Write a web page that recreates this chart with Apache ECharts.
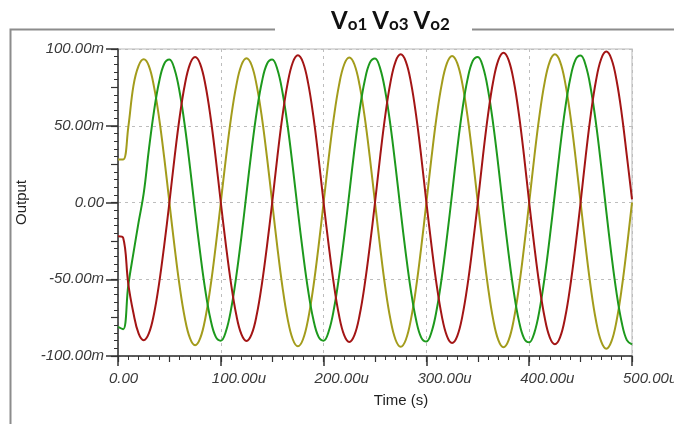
<!DOCTYPE html>
<html>
<head>
<meta charset="utf-8">
<script src="https://cdn.jsdelivr.net/npm/echarts@6/dist/echarts.min.js"></script>
<style>
  html, body { margin: 0; padding: 0; background: #fff; }
  #chart { width: 674px; height: 424px; }
</style>
</head>
<body>
<div id="chart"></div>
<script>
// time in microseconds, sampled every 5u
const timeUs = [
  0, 5, 10, 15, 20, 25, 30, 35, 40, 45, 50, 55, 60, 65, 70, 75, 80, 85, 90, 95,
  100, 105, 110, 115, 120, 125, 130, 135, 140, 145, 150, 155, 160, 165, 170, 175, 180, 185, 190, 195,
  200, 205, 210, 215, 220, 225, 230, 235, 240, 245, 250, 255, 260, 265, 270, 275, 280, 285, 290, 295,
  300, 305, 310, 315, 320, 325, 330, 335, 340, 345, 350, 355, 360, 365, 370, 375, 380, 385, 390, 395,
  400, 405, 410, 415, 420, 425, 430, 435, 440, 445, 450, 455, 460, 465, 470, 475, 480, 485, 490, 495,
  500
];

// outputs in millivolts
// Vo1 (olive)
const vo1 = [
  28, 28, 49, 76, 89, 93.3, 89, 75.5, 55, 29, 0, -28.7, -54.7, -75.2, -88.4, -93, -88.4, -75.2, -54.7, -28.7,
  0, 29, 55.3, 76, 89.4, 94, 89.4, 76, 55.3, 29, 0, -29, -55.1, -75.8, -89.1, -93.7, -89.1, -75.8, -55.1, -29,
  0, 29.2, 55.6, 76.5, 89.9, 94.5, 89.9, 76.5, 55.6, 29.2, 0, -29, -55.3, -76, -89.4, -94, -89.4, -76, -55.3, -29,
  0, 29.5, 56.2, 77.3, 90.8, 95.5, 90.8, 77.3, 56.2, 29.5, 0, -29.1, -55.4, -76.3, -89.7, -94.3, -89.7, -76.3, -55.4, -29.1,
  0, 29.8, 56.7, 78.1, 91.8, 96.5, 91.8, 78.1, 56.7, 29.8, 0, -29.4, -56, -77, -90.5, -95.2, -90.5, -77, -56, -29.4,
  0
];
// Vo3 (green)
const vo3 = [
  -81, -82.5, -54, -33, -13, 5.9, 34.3, 59.4, 78.7, 90.4, 93.1, 86.8, 71.8, 50, 23.2, -5.7, -33.2, -57.5, -76.1, -87.4,
  -90, -83.9, -69.5, -48.3, -22.5, 5.9, 34.3, 59.4, 78.7, 90.4, 93.1, 86.8, 71.8, 50, 23.2, -5.7, -33.2, -57.5, -76.1, -87.4,
  -90, -83.9, -69.5, -48.3, -22.5, 5.9, 34.6, 59.9, 79.3, 91.1, 93.8, 87.4, 72.4, 50.4, 23.4, -5.7, -33.4, -57.8, -76.6, -88,
  -90.6, -84.4, -69.9, -48.7, -22.6, 6, 35, 60.5, 80.2, 92.1, 94.8, 88.4, 73.2, 50.9, 23.7, -5.8, -33.6, -58.2, -77.1, -88.5,
  -91.1, -84.9, -70.3, -48.9, -22.7, 6, 35.3, 61.1, 80.9, 92.9, 95.7, 89.2, 73.8, 51.4, 23.9, -5.8, -34.1, -59, -78.2, -89.7,
  -92.4
];
// Vo2 (red)
const vo2 = [
  -22, -23, -53, -72, -85.3, -89.7, -85.3, -72.6, -52.7, -27.7, 0, 29.3, 55.7, 76.7, 90.2, 94.8, 90.2, 76.7, 55.7, 29.3,
  0, -27.9, -53, -73, -85.8, -90.2, -85.8, -73, -53, -27.9, 0, 29.6, 56.4, 77.6, 91.2, 95.9, 91.2, 77.6, 56.4, 29.6,
  0, -28.1, -53.4, -73.5, -86.4, -90.8, -86.4, -73.5, -53.4, -28.1, 0, 29.8, 56.7, 78.1, 91.8, 96.5, 91.8, 78.1, 56.7, 29.8,
  0, -28.3, -53.8, -74, -87, -91.5, -87, -74, -53.8, -28.3, 0, 30.2, 57.4, 79, 92.8, 97.6, 92.8, 79, 57.4, 30.2,
  0, -28.6, -54.3, -74.8, -87.9, -92.4, -87.9, -74.8, -54.3, -28.6, 0, 30.4, 57.8, 79.5, 93.5, 98.3, 93.5, 79.5, 57.8, 30.4,
  2
];

const xTickValues = [0, 100, 200, 300, 400, 500];
const xTickLabels = ['0.00', '100.00u', '200.00u', '300.00u', '400.00u', '500.00u'];
const yTickValues = [-100, -50, 0, 50, 100];
const yTickLabels = ['-100.00m', '-50.00m', '0.00', '50.00m', '100.00m'];

const axisColor = '#333';
const labelFont = {
  fontFamily: 'Liberation Sans',
  fontStyle: 'italic',
  fontSize: 15,
  color: '#3a3a3a'
};

function pairs(values) {
  return timeUs.map((t, i) => [t, values[i]]);
}

const chart = echarts.init(document.getElementById('chart'));
chart.setOption({
  animation: false,
  backgroundColor: '#fff',
  title: {
    text: '{v|V}{s|o1} {v|V}{s|o3} {v|V}{s|o2}',
    left: 326,
    top: 4,
    textStyle: {
      rich: {
        v: { fontFamily: 'Lato', fontWeight: 'bold', fontSize: 24, color: '#111', verticalAlign: 'bottom' },
        s: { fontFamily: 'Lato', fontWeight: 'bold', fontSize: 17, color: '#111', verticalAlign: 'bottom' }
      }
    }
  },
  graphic: [
    {
      type: 'polyline',
      shape: { points: [[10.5, 430], [10.5, 29.5], [275, 29.5]] },
      style: { stroke: '#8c8c8c', lineWidth: 2, fill: null },
      silent: true
    },
    {
      type: 'line',
      shape: { x1: 472, y1: 29.5, x2: 680, y2: 29.5 },
      style: { stroke: '#8c8c8c', lineWidth: 2 },
      silent: true
    }
  ],
  grid: {
    left: 118,
    right: 42,
    top: 49,
    bottom: 68,
    outerBoundsMode: 'none',
    containLabel: false,
    show: true,
    borderColor: '#cfcfcf',
    borderWidth: 1.5
  },
  xAxis: [
    {
      type: 'value',
      min: 0,
      max: 500,
      interval: 100,
      position: 'bottom',
      name: 'Time (s)',
      nameLocation: 'middle',
      nameGap: 37,
      nameTextStyle: { fontFamily: 'Liberation Sans', fontSize: 15, color: '#222', padding: [0, 0, 0, 52] },
      axisLine: { onZero: false, lineStyle: { color: axisColor, width: 1.5 } },
      axisTick: { length: 10, lineStyle: { color: axisColor, width: 1.5 } },
      minorTick: { show: true, splitNumber: 10, length: 4, lineStyle: { color: axisColor } },
      axisLabel: Object.assign({}, labelFont, {
        margin: 15,
        align: 'left',
        padding: [0, 0, 0, -9],
        formatter: v => xTickLabels[xTickValues.indexOf(v)]
      }),
      splitLine: { show: true, lineStyle: { type: [3, 4], color: '#bdbdbd' } }
    },
    {
      type: 'value',
      min: 0,
      max: 500,
      interval: 50,
      position: 'bottom',
      axisLine: { show: false, onZero: false },
      axisTick: { length: 6, lineStyle: { color: axisColor, width: 1.2 } },
      axisLabel: { show: false },
      splitLine: { show: false }
    }
  ],
  yAxis: [
    {
      type: 'value',
      min: -100,
      max: 100,
      interval: 50,
      position: 'left',
      name: 'Output',
      nameLocation: 'middle',
      nameGap: 86,
      nameRotate: 90,
      nameTextStyle: { fontFamily: 'Liberation Sans', fontSize: 15, color: '#222' },
      axisLine: { onZero: false, lineStyle: { color: axisColor, width: 1.5 } },
      axisTick: { length: 12, lineStyle: { color: axisColor, width: 1.5 } },
      minorTick: { show: true, splitNumber: 10, length: 4, lineStyle: { color: axisColor } },
      axisLabel: Object.assign({}, labelFont, {
        margin: 14,
        formatter: v => yTickLabels[yTickValues.indexOf(v)]
      }),
      splitLine: { show: true, lineStyle: { type: [3, 4], color: '#bdbdbd' } }
    },
    {
      type: 'value',
      min: -100,
      max: 100,
      interval: 25,
      position: 'left',
      axisLine: { show: false, onZero: false },
      axisTick: { length: 7, lineStyle: { color: axisColor, width: 1.2 } },
      axisLabel: { show: false },
      splitLine: { show: false }
    }
  ],
  series: [
    {
      name: 'Vo1',
      type: 'line',
      data: pairs(vo1),
      showSymbol: false,
      smooth: 0.4,
      lineStyle: { color: '#a39c1c', width: 2 }
    },
    {
      name: 'Vo3',
      type: 'line',
      data: pairs(vo3),
      showSymbol: false,
      smooth: 0.4,
      lineStyle: { color: '#1d991d', width: 2 }
    },
    {
      name: 'Vo2',
      type: 'line',
      data: pairs(vo2),
      showSymbol: false,
      smooth: 0.4,
      lineStyle: { color: '#a31515', width: 2 }
    }
  ]
});
</script>
</body>
</html>
